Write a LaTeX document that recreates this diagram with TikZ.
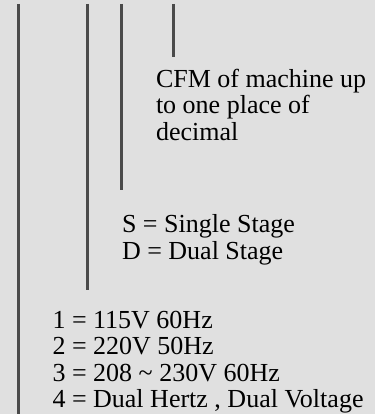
\documentclass[tikz,border=0pt]{standalone}
\usepackage{fontspec}
\newfontfamily\fonta{Liberation Serif}
\newfontfamily\fontb{Liberation Serif}[Scale=1.0001]
\newfontfamily\fontc{Liberation Serif}[Scale=1.0002]
\definecolor{bg}{HTML}{E0E0E0}
\definecolor{rule}{HTML}{4A4A4A}
\tikzset{
  leader/.style={draw=rule, line width=3pt},
  label/.style={anchor=base west, inner sep=0pt, outer sep=0pt},
  cfmtext/.style={label, font=\fonta\fontsize{26}{26}\selectfont},
  stagetext/.style={label, font=\fontb\fontsize{26}{26}\selectfont},
  volttext/.style={label, font=\fontc\fontsize{26}{26}\selectfont},
}
\begin{document}
\begin{tikzpicture}[x=1pt,y=-1pt]
\fill[bg] (0,0) rectangle (375,414);
\useasboundingbox (0,0) rectangle (375,414);
% leader lines
\coordinate (l1t) at (18,4);   \coordinate (l1b) at (18,414);
\coordinate (l2t) at (87,4);   \coordinate (l2b) at (87,290);
\coordinate (l3t) at (121,4);  \coordinate (l3b) at (121,190);
\coordinate (l4t) at (173,4);  \coordinate (l4b) at (173,57);
\draw[leader] (l1t) -- (l1b);
\draw[leader] (l2t) -- (l2b);
\draw[leader] (l3t) -- (l3b);
\draw[leader] (l4t) -- (l4b);
% texts
\node[cfmtext] (cfm1) at (156,88) {CFM of machine up};
\node[cfmtext] (cfm2) at (156,114) {to one place of};
\node[cfmtext] (cfm3) at (156,140) {decimal};
\node[stagetext] (st1) at (122,232) {S = Single Stage};
\node[stagetext] (st2) at (122,259) {D = Dual Stage};
\node[volttext] (v1) at (52.5,328) {1 = 115V 60Hz};
\node[volttext] (v2) at (52.5,354.5) {2 = 220V 50Hz};
\node[volttext] (v3) at (52.5,381) {3 = 208 \textasciitilde\ 230V 60Hz};
\node[volttext] (v4) at (52.5,407.5) {4 = Dual Hertz , Dual Voltage};
\end{tikzpicture}
\end{document}
